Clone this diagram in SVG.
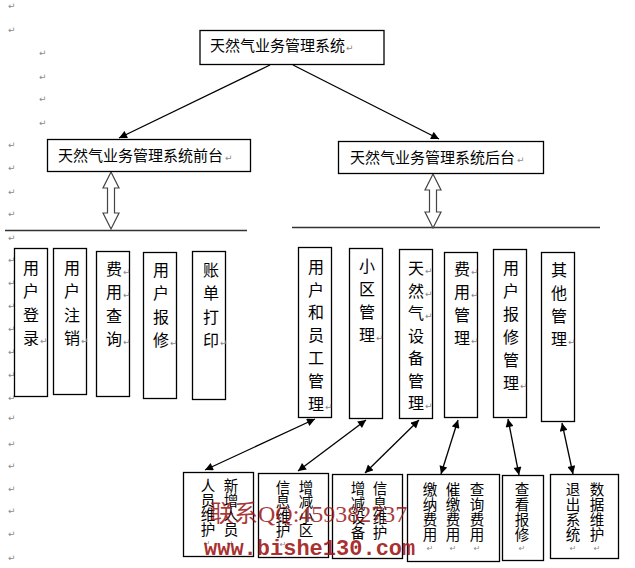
<svg xmlns="http://www.w3.org/2000/svg" width="635" height="568" viewBox="0 0 635 568">
<style>
.box{fill:#fff;stroke:#000;stroke-width:1.3}
.t{font-family:"Noto Sans CJK SC","Liberation Sans",sans-serif;font-size:15px;fill:#000}
.v{font-family:"Noto Sans CJK SC","Liberation Sans",sans-serif;font-size:16px;fill:#000;text-anchor:middle}
.s{font-family:"Noto Sans CJK SC","Liberation Sans",sans-serif;font-size:14.5px;fill:#000;text-anchor:middle}
.pm{font-family:"DejaVu Sans",sans-serif;font-size:9px;fill:#8a8a8a}
.pmc{font-family:"DejaVu Sans",sans-serif;font-size:8px;fill:#8a8a8a;text-anchor:middle}
.c{stroke:#000;stroke-width:1.3;fill:none}
.dbl{fill:#fff;stroke:#444;stroke-width:1.2}
.hl{stroke:#333;stroke-width:1.6}
.wm1{font-family:"Liberation Serif","Noto Sans CJK SC",serif;font-size:24px;fill:#9b1414;fill-opacity:0.85}
.wm2{font-family:"Liberation Mono",monospace;font-weight:bold;font-size:22px;fill:#a01414;fill-opacity:0.9}
</style>
<defs>
<marker id="ah" viewBox="0 0 10 10" refX="10" refY="5" markerWidth="9" markerHeight="8" markerUnits="userSpaceOnUse" orient="auto-start-reverse"><path d="M0,0 L10,5 L0,10 z" fill="#000"/></marker>
</defs>
<rect width="635" height="568" fill="#fff"/>

<g id="margin-marks" class="pm">
<text x="8" y="9">↵</text><text x="8" y="33">↵</text>
<text x="39" y="56">↵</text><text x="39" y="80">↵</text><text x="39" y="102">↵</text><text x="39" y="126">↵</text>
<text x="8" y="148">↵</text><text x="8" y="171">↵</text><text x="8" y="195">↵</text><text x="8" y="217">↵</text><text x="8" y="241">↵</text>
<text x="8" y="263">↵</text><text x="8" y="286">↵</text><text x="8" y="309">↵</text><text x="8" y="332">↵</text><text x="8" y="355">↵</text><text x="8" y="378">↵</text><text x="8" y="401">↵</text>
<text x="8" y="421">↵</text><text x="8" y="447">↵</text><text x="8" y="469">↵</text><text x="8" y="492">↵</text><text x="8" y="514">↵</text><text x="8" y="537">↵</text><text x="8" y="561">↵</text>
</g>

<g id="dividers">
<line class="hl" x1="5" y1="230.5" x2="247" y2="230.5"/>
<line class="hl" x1="292" y1="227.5" x2="600" y2="227.5"/>
</g>

<g id="connectors">
<line class="c" x1="270" y1="65" x2="119" y2="138" marker-end="url(#ah)"/>
<line class="c" x1="293" y1="65" x2="439" y2="139" marker-end="url(#ah)"/>
<path class="dbl" d="M111,172 L119,188 L114.5,188 L114.5,213 L119,213 L111,229 L103,213 L107.5,213 L107.5,188 L103,188 Z"/>
<path class="dbl" d="M433,174 L441,190 L436.5,190 L436.5,212 L441,212 L433,228 L425,212 L429.5,212 L429.5,190 L425,190 Z"/>
<line class="c" x1="315" y1="419" x2="205" y2="470" marker-start="url(#ah)" marker-end="url(#ah)"/>
<line class="c" x1="366" y1="420" x2="298" y2="471" marker-start="url(#ah)" marker-end="url(#ah)"/>
<line class="c" x1="419" y1="420" x2="365" y2="473" marker-start="url(#ah)" marker-end="url(#ah)"/>
<line class="c" x1="458" y1="420" x2="441" y2="474" marker-start="url(#ah)" marker-end="url(#ah)"/>
<line class="c" x1="508" y1="419" x2="519" y2="475" marker-start="url(#ah)" marker-end="url(#ah)"/>
<line class="c" x1="562" y1="423" x2="573" y2="474" marker-start="url(#ah)" marker-end="url(#ah)"/>
</g>

<g id="root">
<rect class="box" x="200" y="30.5" width="184" height="34"/>
<text class="t" x="210" y="51">天然气业务管理系统</text><text class="pm" x="346" y="51">↵</text>
</g>
<g id="front">
<rect class="box" x="47.5" y="139.5" width="203" height="32"/>
<text class="t" x="58" y="161">天然气业务管理系统前台</text><text class="pm" x="225" y="161">↵</text>
</g>
<g id="back">
<rect class="box" x="338.5" y="141.5" width="205" height="32"/>
<text class="t" x="350" y="163">天然气业务管理系统后台</text><text class="pm" x="517" y="163">↵</text>
</g>

<g id="f1"><rect class="box" x="14.5" y="248.5" width="33" height="148"/>
<text class="v"><tspan x="31" y="274">用</tspan><tspan x="31" y="297">户</tspan><tspan x="31" y="321">登</tspan><tspan x="31" y="344">录</tspan></text><text class="pm" x="40" y="344">↵</text></g>
<g id="f2"><rect class="box" x="53.5" y="248.5" width="33" height="146"/>
<text class="v"><tspan x="72" y="274">用</tspan><tspan x="72" y="297">户</tspan><tspan x="72" y="321">注</tspan><tspan x="72" y="344">销</tspan></text><text class="pm" x="81" y="344">↵</text></g>
<g id="f3"><rect class="box" x="96.5" y="251.5" width="33" height="145"/>
<text class="v"><tspan x="114" y="275">费</tspan><tspan x="114" y="298">用</tspan><tspan x="114" y="322">查</tspan><tspan x="114" y="345">询</tspan></text><text class="pm" x="123" y="275">↵</text><text class="pm" x="123" y="298">↵</text><text class="pm" x="123" y="345">↵</text></g>
<g id="f4"><rect class="box" x="143.5" y="252.5" width="33" height="146"/>
<text class="v"><tspan x="161" y="276">用</tspan><tspan x="161" y="299">户</tspan><tspan x="161" y="323">报</tspan><tspan x="161" y="346">修</tspan></text><text class="pm" x="170" y="346">↵</text></g>
<g id="f5"><rect class="box" x="192.5" y="251.5" width="33" height="148"/>
<text class="v"><tspan x="211" y="276">账</tspan><tspan x="211" y="299">单</tspan><tspan x="211" y="323">打</tspan><tspan x="211" y="346">印</tspan></text><text class="pm" x="220" y="346">↵</text></g>

<g id="b1"><rect class="box" x="298.5" y="247.5" width="33" height="170"/>
<text class="v"><tspan x="316" y="273">用</tspan><tspan x="316" y="296">户</tspan><tspan x="316" y="318">和</tspan><tspan x="316" y="341">员</tspan><tspan x="316" y="364">工</tspan><tspan x="316" y="387">管</tspan><tspan x="316" y="410">理</tspan></text><text class="pm" x="325" y="410">↵</text></g>
<g id="b2"><rect class="box" x="349.5" y="248.5" width="33" height="170"/>
<text class="v"><tspan x="367" y="272">小</tspan><tspan x="367" y="295">区</tspan><tspan x="367" y="318">管</tspan><tspan x="367" y="341">理</tspan></text><text class="pm" x="376" y="341">↵</text></g>
<g id="b3"><rect class="box" x="399.5" y="249.5" width="33" height="169"/>
<text class="v"><tspan x="416" y="274">天</tspan><tspan x="416" y="296.5">然</tspan><tspan x="416" y="319">气</tspan><tspan x="416" y="341.5">设</tspan><tspan x="416" y="364">备</tspan><tspan x="416" y="386.5">管</tspan><tspan x="416" y="409">理</tspan></text><text class="pm" x="425" y="274">↵</text><text class="pm" x="425" y="296.5">↵</text><text class="pm" x="425" y="319">↵</text><text class="pm" x="425" y="409">↵</text></g>
<g id="b4"><rect class="box" x="444.5" y="252.5" width="33" height="165"/>
<text class="v"><tspan x="462" y="275">费</tspan><tspan x="462" y="298">用</tspan><tspan x="462" y="321">管</tspan><tspan x="462" y="344">理</tspan></text><text class="pm" x="471" y="275">↵</text><text class="pm" x="471" y="298">↵</text><text class="pm" x="471" y="344">↵</text></g>
<g id="b5"><rect class="box" x="493.5" y="249.5" width="33" height="168"/>
<text class="v"><tspan x="511" y="274">用</tspan><tspan x="511" y="297">户</tspan><tspan x="511" y="320">报</tspan><tspan x="511" y="343">修</tspan><tspan x="511" y="366">管</tspan><tspan x="511" y="389">理</tspan></text><text class="pm" x="520" y="389">↵</text></g>
<g id="b6"><rect class="box" x="541.5" y="252.5" width="33" height="169"/>
<text class="v"><tspan x="559" y="276">其</tspan><tspan x="559" y="299">他</tspan><tspan x="559" y="322">管</tspan><tspan x="559" y="345">理</tspan></text><text class="pm" x="568" y="345">↵</text></g>

<g id="s1"><rect class="box" x="183.5" y="472.5" width="70" height="84"/>
<text class="s"><tspan x="208" y="491">人</tspan><tspan x="208" y="505.5">员</tspan><tspan x="208" y="520">维</tspan><tspan x="208" y="534.5">护</tspan><tspan x="231" y="491">新</tspan><tspan x="231" y="505.5">增</tspan><tspan x="231" y="520">人</tspan><tspan x="231" y="534.5">员</tspan></text>
<text class="pmc" x="207" y="546">↵</text><text class="pmc" x="230" y="546">↵</text></g>
<g id="s2"><rect class="box" x="258.5" y="473.5" width="70" height="84"/>
<text class="s"><tspan x="283" y="492.5">信</tspan><tspan x="283" y="507">息</tspan><tspan x="283" y="521.5">维</tspan><tspan x="283" y="536">护</tspan><tspan x="306" y="492.5">增</tspan><tspan x="306" y="507">减</tspan><tspan x="306" y="521.5">小</tspan><tspan x="306" y="536">区</tspan></text>
<text class="pmc" x="283" y="547">↵</text></g>
<g id="s3"><rect class="box" x="332.5" y="474.5" width="70" height="84"/>
<text class="s"><tspan x="358" y="494">增</tspan><tspan x="358" y="508.5">减</tspan><tspan x="358" y="523">设</tspan><tspan x="358" y="537.5">备</tspan><tspan x="380" y="494">信</tspan><tspan x="380" y="508.5">息</tspan><tspan x="380" y="523">维</tspan><tspan x="380" y="537.5">护</tspan></text>
<text class="pmc" x="358" y="549">↵</text></g>
<g id="s4"><rect class="box" x="407.5" y="474.5" width="92" height="87"/>
<text class="s"><tspan x="430" y="495">缴</tspan><tspan x="430" y="510">纳</tspan><tspan x="430" y="525">费</tspan><tspan x="430" y="540">用</tspan><tspan x="453" y="495">催</tspan><tspan x="453" y="510">缴</tspan><tspan x="453" y="525">费</tspan><tspan x="453" y="540">用</tspan><tspan x="477" y="495">查</tspan><tspan x="477" y="510">询</tspan><tspan x="477" y="525">费</tspan><tspan x="477" y="540">用</tspan></text>
<text class="pmc" x="430" y="551">↵</text><text class="pmc" x="453" y="551">↵</text><text class="pmc" x="477" y="551">↵</text></g>
<g id="s5"><rect class="box" x="502.5" y="475.5" width="41" height="85"/>
<text class="s"><tspan x="522" y="495">查</tspan><tspan x="522" y="510">看</tspan><tspan x="522" y="525">报</tspan><tspan x="522" y="540">修</tspan></text>
<text class="pmc" x="522" y="551">↵</text></g>
<g id="s6"><rect class="box" x="550.5" y="474.5" width="68" height="84"/>
<text class="s"><tspan x="573" y="495">退</tspan><tspan x="573" y="510">出</tspan><tspan x="573" y="525">系</tspan><tspan x="573" y="540">统</tspan><tspan x="597" y="495">数</tspan><tspan x="597" y="510">据</tspan><tspan x="597" y="525">维</tspan><tspan x="597" y="540">护</tspan></text>
<text class="pmc" x="573" y="551">↵</text><text class="pmc" x="597" y="551">↵</text></g>

<g id="watermark">
<text class="wm1" x="210" y="522">联系QQ:459382737</text>
<text class="wm2" x="204" y="555">www.bishe130.com</text>
</g>
</svg>
